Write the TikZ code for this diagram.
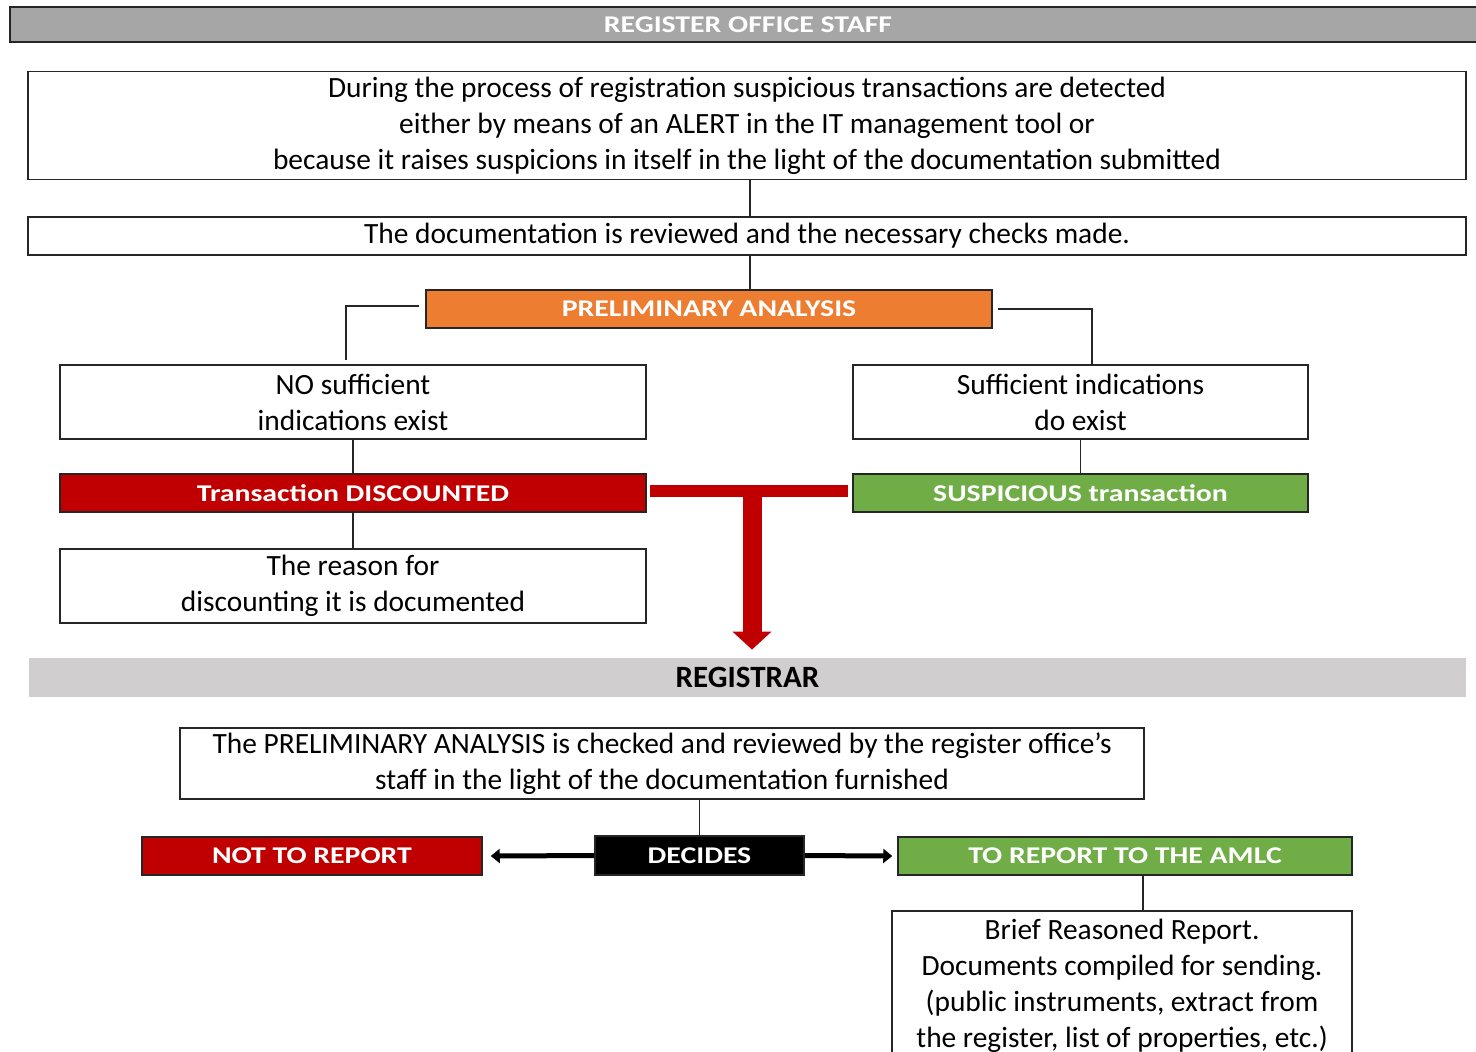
\documentclass[tikz,border=0pt]{standalone}
\usepackage{fontspec}
\setmainfont{Carlito}
\newfontfamily\widebold[FakeStretch=1.24]{Carlito}
\usetikzlibrary{arrows.meta}
\definecolor{hdrgray}{HTML}{A6A6A6}
\definecolor{reggray}{HTML}{D0CECE}
\definecolor{paorange}{HTML}{ED7D31}
\definecolor{tdred}{HTML}{C00000}
\definecolor{stgreen}{HTML}{70AD47}
\definecolor{edge}{HTML}{262626}
\tikzset{
  box/.style={draw=edge, line width=0.75pt, fill=white, align=center, inner sep=0pt,
    font=\fontsize{14.7}{18}\selectfont},
  hdr/.style={draw=edge, line width=0.75pt, text=white, align=center, inner sep=0pt,
    font=\widebold\bfseries\fontsize{12}{18}\selectfont},
  conn/.style={draw=edge, line width=0.75pt},
  barrow/.style={draw=black, line width=2.5pt, -{Triangle[width=7pt,length=4.5pt]}},
}
\begin{document}
\begin{tikzpicture}[x=0.5pt,y=-0.5pt]
\useasboundingbox (0,0) rectangle (1476,1051);
\clip (0,0) rectangle (1476,1051);
% top header
\node[hdr, fill=hdrgray, line width=1pt, minimum width=738pt, minimum height=17.5pt] (staff) at (748,24.5) {REGISTER OFFICE STAFF};
\node[box, minimum width=719pt, minimum height=54pt] (b1) at (747,125.5)
  {During the process of registration suspicious transactions are detected\\
   either by means of an ALERT in the IT management tool or\\
   because it raises suspicions in itself in the light of the documentation submitted};
\node[box, minimum width=719pt, minimum height=19pt] (b2) at (747,236)
  {The documentation is reviewed and the necessary checks made.};
\node[hdr, fill=paorange, minimum width=283pt, minimum height=19pt] (pa) at (709,309) {PRELIMINARY ANALYSIS};
\node[box, minimum width=293pt, minimum height=37pt] (no) at (353,402) {NO sufficient\\indications exist};
\node[box, minimum width=227.5pt, minimum height=37pt] (suff) at (1080.5,402) {Sufficient indications\\do exist};
\node[hdr, fill=tdred, minimum width=293pt, minimum height=19pt] (td) at (353,493) {Transaction DISCOUNTED};
\node[hdr, fill=stgreen, minimum width=227.5pt, minimum height=19pt] (st) at (1080.5,493) {SUSPICIOUS transaction};
\node[box, minimum width=293pt, minimum height=37pt] (rs) at (353,586) {The reason for\\discounting it is documented};
% registrar band
\node[fill=reggray, minimum width=718.5pt, minimum height=19.5pt, inner sep=0pt,
  font=\bfseries\fontsize{15.5}{18}\selectfont] (reg) at (747.5,677.5) {REGISTRAR};
\node[box, minimum width=482pt, minimum height=35.5pt] (chk) at (662,763.5)
  {The PRELIMINARY ANALYSIS is checked and reviewed by the register office’s\\
   staff in the light of the documentation furnished};
\node[hdr, fill=black, minimum width=104.5pt, minimum height=19.5pt] (dec) at (699.5,855.5) {DECIDES};
\node[hdr, fill=tdred, minimum width=170pt, minimum height=19pt] (ntr) at (312,856) {NOT TO REPORT};
\node[hdr, fill=stgreen, minimum width=227pt, minimum height=19pt] (tra) at (1125,856) {TO REPORT TO THE AMLC};
\node[box, minimum width=230pt, minimum height=75pt] (brief) at (1122,986)
  {Brief Reasoned Report.\\Documents compiled for sending.\\(public instruments, extract from\\the register, list of properties, etc.)};
% connectors
\draw[conn] ([xshift=1.5pt]b1.south) -- ([xshift=1.5pt]b2.north);
\draw[conn] ([xshift=1.5pt]b2.south) -- ([xshift=1.5pt]b2.south |- pa.north);
\draw[conn] ([xshift=-3pt,yshift=1.5pt]pa.west) -| ([xshift=-3.5pt,yshift=2pt]no.north);
\draw[conn] ([xshift=2.5pt]pa.east) -| ([xshift=5.75pt]suff.north);
\draw[conn] (no.south) -- (no.south |- td.north);
\draw[conn] (suff.south) -- (suff.south |- st.north);
\draw[conn] (td.south) -- (td.south |- rs.north);
\draw[conn] (dec.north) -- (dec.north |- chk.south);
\draw[conn] ([xshift=9pt]tra.south) -- ([xshift=9pt]tra.south |- brief.north);
% red T connector
\coordinate (tj) at (752,491);
\draw[tdred, line width=6pt] ([xshift=1.5pt]td.east |- tj) -- ([xshift=-2pt]st.west |- tj);
\draw[tdred, line width=9.5pt, -{Triangle[width=19pt,length=9pt]}, shorten >=4pt] (tj) -- (tj |- reg.north);
% decision arrows
\draw[barrow] (dec.west) -- ([xshift=4pt]ntr.east);
\draw[barrow] (dec.east) -- ([xshift=-2.5pt]tra.west);
\end{tikzpicture}
\end{document}
